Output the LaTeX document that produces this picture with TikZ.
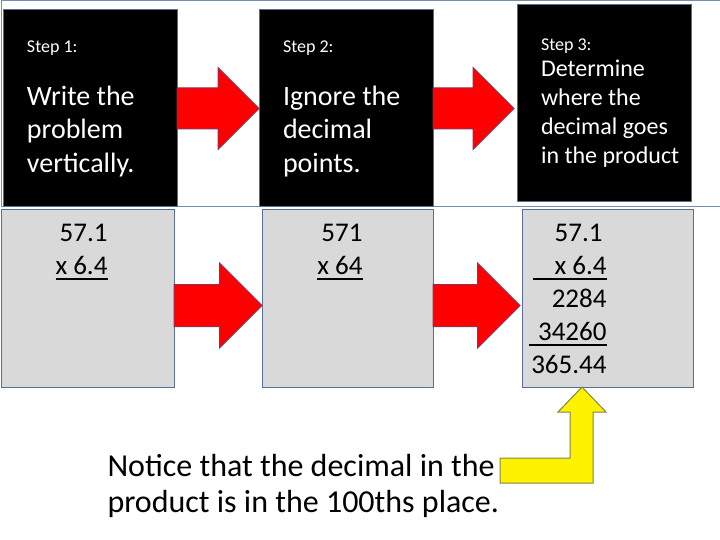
\documentclass[tikz,border=0pt]{standalone}
\usepackage{fontspec}
\setmainfont{Carlito}
\usetikzlibrary{positioning,shapes.arrows}

\definecolor{boxline}{RGB}{88,110,150}
\definecolor{frameline}{RGB}{120,140,170}
\definecolor{workgray}{RGB}{217,217,217}
\definecolor{arrowline}{RGB}{150,45,85}
\definecolor{bentline}{RGB}{130,130,70}

\newcommand{\sumline}[1]{\setbox0=\hbox{#1}\rlap{\rule[-5pt]{\wd0}{2pt}}\box0}

\tikzstyle{stepbox} = [rectangle, minimum width=174pt, minimum height=197pt,
                      text width=126pt, inner xsep=24pt, inner ysep=0pt,
                      outer sep=0pt,
                      fill=black,
                      draw=boxline,
                      text=white,
                      align=flush left,
                      font=\fontsize{28}{33.5}\selectfont]
\tikzstyle{workbox} = [rectangle, minimum width=171pt, minimum height=177pt,
                      outer sep=0pt,
                      fill=workgray,
                      draw=boxline]
\tikzstyle{sumtext} = [align=right, inner sep=0pt,
                      font=\fontsize{27}{33}\selectfont]
\tikzstyle{redarrow} = [single arrow, anchor=tail,
                      inner xsep=0pt, inner ysep=20pt, outer sep=0pt,
                      single arrow head extend=20.5pt,
                      fill=red, draw=arrowline]
\tikzstyle{bentarrow} = [fill=yellow, draw=bentline]
\tikzstyle{notetext} = [align=left, inner sep=0pt,
                      font=\fontsize{32}{36}\selectfont]

\begin{document}
\begin{tikzpicture}[x=1pt, y=-1pt, line width=1pt]

  \useasboundingbox (0,0) rectangle (720,540);

  % frame round the steps
  \draw[frameline] (720,1) -- (1,1) -- (1,207) -- (720,207);

  \node (step1) [stepbox, anchor=north west] at (3,10) {
    {\fontsize{18}{22}\selectfont Step 1:}\\[19.5pt]
    Write the\\
    problem\\
    vertically.
  };

  \node (step2) [stepbox, right=82pt of step1] {
    {\fontsize{18}{22}\selectfont Step 2:}\\[19.5pt]
    Ignore the\\
    decimal\\
    points.
  };

  \node (step3) [stepbox, right=84pt of step2, yshift=5pt,
                 font=\fontsize{24}{29}\selectfont] {
    {\fontsize{18}{22}\selectfont Step 3:}\\[-3pt]
    Determine\\
    where the\\
    \mbox{decimal goes}\\
    \mbox{in the product}
  };

  \node (work1) [workbox, minimum width=173pt, below=3pt of step1, xshift=-2.5pt] {};
  \node (work2) [workbox, below=3pt of step2, xshift=1.5pt] {};
  \node (work3) [workbox, below=8pt of step3, xshift=3.5pt] {};

  \node (sum1) [sumtext, below left=14pt and 66pt of work1.north east] {
    57.1\\
    \sumline{x 6.4}
  };

  \node (sum2) [sumtext, below left=14pt and 70pt of work2.north east] {
    571\\
    \sumline{x 64}
  };

  \node (sum3) [sumtext, below left=14pt and 86pt of work3.north east] {
    57.1\hspace*{4pt}\\
    \sumline{\makebox[74pt][r]{x 6.4}}\hspace*{4pt}\\
    2284\hspace*{4pt}\\
    \sumline{\makebox[78pt][r]{34260}}\\
    365.44
  };

  \node (arrow1) [redarrow, minimum height=82pt] at (step1.east) {};
  \node (arrow2) [redarrow, minimum height=81pt] at (step2.east) {};
  \node (arrow3) [redarrow, minimum height=88pt, inner ysep=20.5pt,
                  single arrow head extend=21.5pt] at ([yshift=-7pt]work1.east) {};
  \node (arrow4) [redarrow, minimum height=87pt, inner ysep=20.5pt,
                  single arrow head extend=21.5pt] at ([yshift=-7pt]work2.east) {};

  \node (notice) [notetext, anchor=base west] at (107,512) {
    Notice that the decimal in the\\
    product is in the 100ths place.
  };

  % bent arrow from the note up to the product
  \coordinate (bend-tip) at ([xshift=-25.5pt]work3.south);
  \draw[bentarrow] (bend-tip) -- ++(24,25) -- ++(-13,0) -- ++(0,71)
    -- ++(-93,0) -- ++(0,-25) -- ++(70,0) -- ++(0,-46) -- ++(-12,0) -- cycle;

\end{tikzpicture}
\end{document}
